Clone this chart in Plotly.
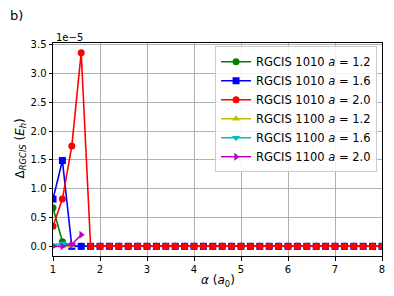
import plotly.graph_objects as go

alpha = [round(1.0 + 0.2 * i, 1) for i in range(36)]

# values in units of 1e-5 Eh
g1010_12 = [0.67, 0.08, 0.0] + [0.0] * 33
g1010_16 = [0.82, 1.49, 0.0, 0.0] + [0.0] * 32
g1010_20 = [0.35, 0.82, 1.74, 3.36, 0.0] + [0.0] * 31
alpha_1100 = [1.0, 1.2, 1.4, 1.6]
g1100_12 = [0.0, 0.0, 0.0]
g1100_16 = [0.02, 0.05, 0.02]
g1100_20 = [0.0, 0.0, 0.03, 0.2]

names = [
    "RGCIS 1010 <i>a</i> = 1.2",
    "RGCIS 1010 <i>a</i> = 1.6",
    "RGCIS 1010 <i>a</i> = 2.0",
    "RGCIS 1100 <i>a</i> = 1.2",
    "RGCIS 1100 <i>a</i> = 1.6",
    "RGCIS 1100 <i>a</i> = 2.0",
]
xs = [alpha, alpha, alpha, alpha_1100[:3], alpha_1100[:3], alpha_1100]
ys = [g1010_12, g1010_16, g1010_20, g1100_12, g1100_16, g1100_20]
colors = ["#008000", "#0000ff", "#ff0000", "#bfbf00", "#00bfbf", "#bf00bf"]
symbols = ["circle", "square", "circle", "triangle-up", "triangle-down", "triangle-right"]

fig = go.Figure()
for x, y, n, c, s in zip(xs, ys, names, colors, symbols):
    fig.add_trace(go.Scatter(
        x=x, y=y, name=n, mode="lines+markers",
        line=dict(color=c, width=1.6),
        marker=dict(symbol=s, color=c, size=7),
    ))

fig.update_layout(
    width=386, height=288,
    margin=dict(l=45, r=12, t=35, b=40),
    paper_bgcolor="white", plot_bgcolor="white",
    font=dict(family="DejaVu Sans", size=10, color="black"),
    showlegend=True,
    legend=dict(
        x=0.985, y=0.985, xanchor="right", yanchor="top",
        bgcolor="rgba(255,255,255,0.85)", bordercolor="#cccccc", borderwidth=1,
        font=dict(size=11.5), tracegroupgap=0, itemwidth=30,
    ),
    xaxis=dict(
        range=[1, 8], tickvals=[1, 2, 3, 4, 5, 6, 7, 8],
        showgrid=True, gridcolor="#b0b0b0", gridwidth=0.8,
        showline=True, linecolor="black", linewidth=1, mirror=True,
        ticks="outside", ticklen=3.5, tickcolor="black",
        zeroline=False, automargin=False,
    ),
    yaxis=dict(
        range=[-0.168, 3.53], tickvals=[0, 0.5, 1.0, 1.5, 2.0, 2.5, 3.0, 3.5],
        tickformat=".1f",
        showgrid=True, gridcolor="#b0b0b0", gridwidth=0.8,
        showline=True, linecolor="black", linewidth=1, mirror=True,
        ticks="outside", ticklen=3.5, tickcolor="black",
        zeroline=False, automargin=False,
    ),
    annotations=[
        dict(text="<i>α</i> (<i>a</i><sub>0</sub>)", xref="paper", yref="paper",
             x=0.5, y=0, xanchor="center", yanchor="middle", showarrow=False,
             font=dict(size=12), yshift=-25),
        dict(text="Δ<sub><i>RGCIS</i></sub> (<i>E</i><sub><i>h</i></sub>)", xref="paper", yref="paper",
             x=0, y=0.5, xanchor="center", yanchor="middle", showarrow=False,
             font=dict(size=12), textangle=-90, xshift=-33, yshift=1),
        dict(text="1e−5", xref="paper", yref="paper", x=0, y=1.0, xanchor="left",
             yanchor="bottom", showarrow=False, font=dict(size=10), xshift=1, yshift=-2),
        dict(text="b)", xref="paper", yref="paper", x=0, y=1, xanchor="left", yanchor="bottom",
             showarrow=False, font=dict(size=13), xshift=-45, yshift=18),
    ],
)

fig.write_html("out.html")
